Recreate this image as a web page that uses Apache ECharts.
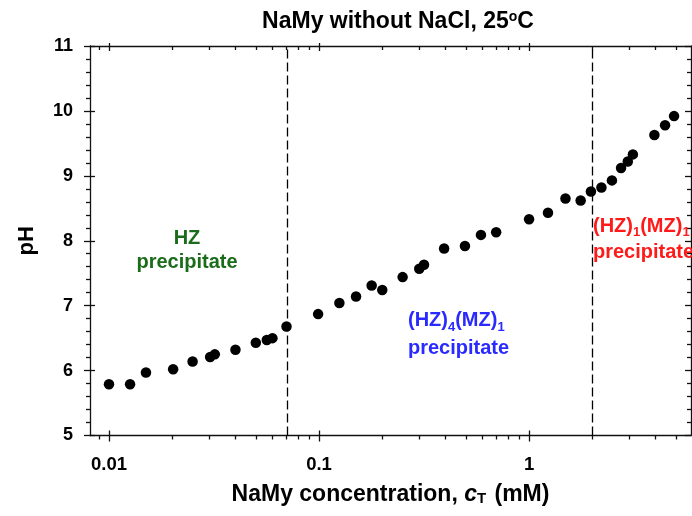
<!DOCTYPE html>
<html><head><meta charset="utf-8">
<script src="https://cdn.jsdelivr.net/npm/echarts@6/dist/echarts.min.js"></script>
<style>html,body{margin:0;padding:0;background:#fff}#c{width:692px;height:516px}</style>
</head><body><div id="c"></div>
<script>
// ---- data ----
const concentration = [0.01,0.0126,0.015,0.0202,0.025,0.0303,0.0319,0.04,0.05,0.0564,0.06,0.07,0.099,0.125,0.15,0.178,0.2,0.25,0.3,0.316,0.394,0.495,0.59,0.697,1.0,1.23,1.49,1.76,1.97,2.21,2.48,2.74,2.95,3.12,3.95,4.44,4.90];
const pH = [5.79,5.79,5.97,6.02,6.14,6.21,6.25,6.32,6.43,6.47,6.50,6.68,6.87,7.04,7.14,7.31,7.24,7.44,7.57,7.63,7.88,7.92,8.09,8.13,8.33,8.43,8.65,8.62,8.76,8.82,8.93,9.12,9.22,9.33,9.63,9.78,9.92];
const xTickValues = [0.01, 0.1, 1];
const xTickLabels = ['0.01', '0.1', '1'];
const yTickLabels = ['5','6','7','8','9','10','11'];
const boundaries = [0.07, 2.0];
const xRange = [0.00812, 5.9];
const yRange = [5, 11];

// ---- build ----
const lg = Math.log10;
const FONT = '"Liberation Sans", Arial, sans-serif';
const xMin = lg(xRange[0]), xMax = lg(xRange[1]);
const majorX = xTickValues.map(lg);
const minorX = [];
for (let d = -3; d <= 0; d++) for (let k = 2; k <= 9; k++) {
  const l = lg(k * Math.pow(10, d));
  if (l > xMin && l < xMax) minorX.push(l);
}
const majorY = yTickLabels.map(Number);
const minorY = [];
for (let i = yRange[0] * 5; i <= yRange[1] * 5; i++) { const y = i / 5; if (Math.abs(y - Math.round(y)) > 1e-9) minorY.push(y); }

const LINE = { color: '#111', width: 1.3 };
function xAx(pos, extra) {
  return Object.assign({
    type: 'value', gridIndex: 0, position: pos, min: xMin, max: xMax,
    splitLine: { show: false }, axisLine: { show: false, onZero: false },
    axisLabel: { show: false }, axisTick: { show: false }
  }, extra);
}
function yAx(pos, extra) {
  return Object.assign({
    type: 'value', gridIndex: 0, position: pos, min: yRange[0], max: yRange[1],
    splitLine: { show: false }, axisLine: { show: false, onZero: false },
    axisLabel: { show: false }, axisTick: { show: false }
  }, extra);
}
function ticks(vals, inside, len) {
  return { show: true, customValues: vals, inside: inside, length: len, lineStyle: LINE };
}

const chart = echarts.init(document.getElementById('c'), null, { renderer: 'canvas' });
chart.setOption({
  animation: false,
  backgroundColor: '#fff',
  title: {
    text: 'NaMy without NaCl, 25{sup|o}C',
    left: 393, top: 5, textAlign: 'center',
    textStyle: { fontFamily: FONT, fontWeight: 'bold', fontSize: 23, color: '#000',
      rich: { sup: { fontFamily: FONT, fontWeight: 'bold', fontSize: 14, color: '#000', verticalAlign: 'top' } } }
  },
  grid: { left: 90, right: 1, top: 46, bottom: 80.5, containLabel: false },
  xAxis: [
    xAx('bottom', {
      axisLine: { show: true, onZero: false, lineStyle: LINE },
      axisTick: ticks(majorX, false, 6),
      axisLabel: { show: true, customValues: majorX, margin: 20, fontFamily: FONT, fontWeight: 'bold', fontSize: 18.5, color: '#000',
        formatter: v => { let bi = 0; majorX.forEach((m, i) => { if (Math.abs(m - v) < Math.abs(majorX[bi] - v)) bi = i; }); return xTickLabels[bi]; } },
      name: 'NaMy concentration, {i|c}{s|T} (mM)', nameLocation: 'middle', nameGap: 48,
      nameTextStyle: { fontFamily: FONT, fontWeight: 'bold', fontSize: 23, color: '#000',
        rich: { i: { fontFamily: FONT, fontWeight: 'bold', fontStyle: 'italic', fontSize: 23, color: '#000' },
                s: { fontFamily: FONT, fontWeight: 'bold', fontSize: 15, color: '#000', verticalAlign: 'bottom', padding: [0, 2, 0, 0] } } }
    }),
    xAx('bottom', { axisTick: ticks(majorX, true, 5) }),
    xAx('bottom', { axisTick: ticks(minorX, false, 4) }),
    xAx('top', { axisLine: { show: true, onZero: false, lineStyle: LINE }, axisTick: ticks(majorX, true, 5) }),
    xAx('top', { axisTick: ticks(majorX, false, 3) }),
    xAx('top', { axisTick: ticks(minorX, true, 4) })
  ],
  yAxis: [
    yAx('left', {
      axisLine: { show: true, onZero: false, lineStyle: LINE },
      axisTick: ticks(majorY, false, 6),
      axisLabel: { show: true, customValues: majorY, margin: 17, fontFamily: FONT, fontWeight: 'bold', fontSize: 18, color: '#000',
        formatter: v => yTickLabels[majorY.indexOf(Math.round(v))] },
      name: 'pH', nameLocation: 'middle', nameGap: 52, nameRotate: 90,
      nameTextStyle: { fontFamily: FONT, fontWeight: 'bold', fontSize: 22, color: '#000' }
    }),
    yAx('left', { axisTick: ticks(majorY, true, 5) }),
    yAx('left', { axisTick: ticks(minorY, false, 4) }),
    yAx('right', { axisLine: { show: true, onZero: false, lineStyle: LINE }, axisTick: ticks(majorY, true, 6) }),
    yAx('right', { axisTick: ticks(minorY, true, 4) })
  ],
  series: [{
    type: 'scatter', xAxisIndex: 0, yAxisIndex: 0,
    symbol: 'circle', symbolSize: 10.5,
    itemStyle: { color: '#000', opacity: 1 },
    data: concentration.map((c, i) => [lg(c), pH[i]]),
    z: 5,
    markLine: {
      silent: true, symbol: 'none', label: { show: false },
      lineStyle: { type: [9, 4], color: '#000', width: 1.3 },
      data: boundaries.map(b => ({ xAxis: lg(b) }))
    }
  }],
  graphic: [
    { type: 'text', x: 187, y: 250, z: 10,
      style: { text: 'HZ\nprecipitate', fill: '#1a6b1a', fontFamily: FONT, fontWeight: 'bold', fontSize: 20,
        lineHeight: 24, align: 'center', verticalAlign: 'middle', textAlign: 'center', textVerticalAlign: 'middle' } },
    { type: 'text', x: 408, y: 334, z: 10,
      style: { text: '(HZ){s|4}(MZ){s|1}\nprecipitate', fill: '#2a2aff', fontFamily: FONT, fontWeight: 'bold', fontSize: 20,
        lineHeight: 28, align: 'left', verticalAlign: 'middle', textAlign: 'left', textVerticalAlign: 'middle',
        rich: { s: { fill: '#2a2aff', fontFamily: FONT, fontWeight: 'bold', fontSize: 13, lineHeight: 13, verticalAlign: 'bottom' } } } },
    { type: 'text', x: 593, y: 239, z: 10,
      style: { text: '(HZ){s|1}(MZ){s|1}\nprecipitate', fill: '#ff1a1a', fontFamily: FONT, fontWeight: 'bold', fontSize: 20,
        lineHeight: 26, align: 'left', verticalAlign: 'middle', textAlign: 'left', textVerticalAlign: 'middle',
        rich: { s: { fill: '#ff1a1a', fontFamily: FONT, fontWeight: 'bold', fontSize: 13, lineHeight: 13, verticalAlign: 'bottom' } } } }
  ]
});
</script>
</body></html>
